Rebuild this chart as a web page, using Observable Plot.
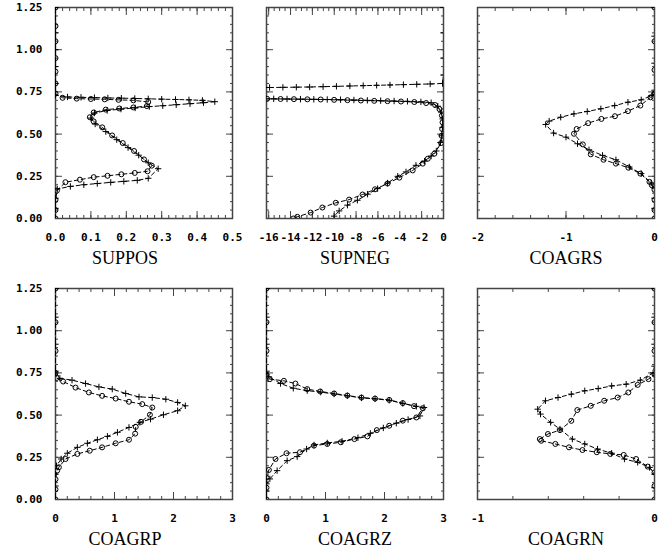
<!DOCTYPE html>
<html><head><meta charset="utf-8">
<script src="https://cdn.jsdelivr.net/npm/d3@7"></script>
<script src="https://cdn.jsdelivr.net/npm/@observablehq/plot@0.6"></script>
<style>
body{margin:0;background:#fff;}
#chart{position:relative;width:668px;height:554px;overflow:hidden;background:#fff;}
#chart svg{position:absolute;}
</style></head><body><div id="chart"></div>
<script>
// ---- panel titles and axes ----
const titles = ["SUPPOS","SUPNEG","COAGRS","COAGRP","COAGRZ","COAGRN"];
const yTicks = [0,0.25,0.5,0.75,1,1.25];
const yLabels = ["0.00","0.25","0.50","0.75","1.00","1.25"];
const yMinorStep = 0.05;
const xDomains = [[0,0.5],[-16.2,0],[-2,0],[0,3],[0,3],[-1,0]];
const xTicks = [[0,0.1,0.2,0.3,0.4,0.5],[-16,-14,-12,-10,-8,-6,-4,-2,0],[-2,-1,0],[0,1,2,3],[0,1,2,3],[-1,0]];
const xLabels = [["0.0","0.1","0.2","0.3","0.4","0.5"],["-16","-14","-12","-10","-8","-6","-4","-2","0"],["-2","-1","0"],["0","1","2","3"],["0","1","2","3"],["-1","0"]];
const xMinorSteps = [0.02,0.5,0.2,0.2,0.2,0.2];

// ---- series (o = circles, p = plus) ----
const supposO_x = [0,0,0,0.004,0.028,0.069,0.108,0.147,0.186,0.224,0.260,0.272,0.250,0.222,0.190,0.160,0.132,0.108,0.097,0.108,0.142,0.180,0.220,0.258,0.262,0.220,0.178,0.139,0.100,0.060,0.020,0,0,0,0,0,0,0];
const supposO_y = [0,0.05,0.11,0.165,0.215,0.230,0.245,0.253,0.262,0.270,0.280,0.313,0.350,0.400,0.447,0.492,0.540,0.575,0.600,0.628,0.645,0.652,0.658,0.666,0.690,0.700,0.703,0.706,0.708,0.710,0.715,0.74,0.80,0.87,0.95,1.05,1.14,1.25];
const supposP_x = [0,0,0,0.005,0.042,0.080,0.118,0.156,0.193,0.231,0.262,0.290,0.262,0.235,0.205,0.173,0.142,0.112,0.100,0.110,0.146,0.185,0.225,0.265,0.303,0.341,0.380,0.418,0.450,0.415,0.377,0.339,0.300,0.262,0.224,0.186,0.148,0.110,0.072,0.034,0,0,0,0,0,0];
const supposP_y = [0,0.06,0.12,0.175,0.190,0.200,0.207,0.214,0.220,0.226,0.238,0.295,0.330,0.375,0.420,0.467,0.515,0.560,0.595,0.625,0.640,0.648,0.655,0.663,0.668,0.674,0.680,0.686,0.692,0.700,0.703,0.705,0.707,0.709,0.711,0.713,0.714,0.716,0.718,0.720,0.73,0.80,0.90,1.00,1.10,1.25];

const supnegO_x = [-18,-16.14,-14.91,-13.69,-12.46,-11.24,-10.01,-8.79,-7.56,-6.34,-5.12,-3.89,-2.67,-1.59,-0.76,-0.37,-0.15,-0.09,-0.12,-0.17,-0.22,-0.83,-1.44,-1.90,-2.82,-4.04,-5.12,-6.27,-7.41,-8.64,-9.86,-11.09,-12.16,-13.38,-13.75];
const supnegO_y = [0.711,0.709,0.708,0.707,0.706,0.705,0.703,0.701,0.699,0.697,0.695,0.693,0.690,0.684,0.672,0.648,0.610,0.570,0.530,0.490,0.447,0.384,0.354,0.325,0.285,0.242,0.207,0.173,0.142,0.112,0.093,0.065,0.035,0.010,0.0];
const supnegP_x = [0,0,0,0,-0.09,-1.22,-2.45,-3.67,-4.90,-6.12,-7.35,-8.57,-9.80,-11.02,-12.25,-13.47,-14.70,-15.92,-18,-18,-15.54,-14.32,-13.09,-11.87,-10.64,-9.42,-8.20,-6.97,-5.75,-4.52,-3.30,-2.07,-1.13,-0.52,-0.21,-0.08,-0.08,-0.15,-0.28,-0.66,-1.13,-1.74,-2.52,-3.43,-4.19,-5.12,-6.03,-6.95,-7.88,-8.79,-9.55,-10.01];
const supnegP_y = [1.25,1.10,0.95,0.85,0.800,0.797,0.795,0.793,0.791,0.789,0.787,0.785,0.783,0.781,0.779,0.778,0.777,0.776,0.775,0.71,0.709,0.708,0.707,0.706,0.705,0.704,0.702,0.700,0.698,0.696,0.694,0.691,0.686,0.665,0.630,0.590,0.540,0.490,0.450,0.40,0.37,0.34,0.315,0.276,0.25,0.21,0.177,0.144,0.108,0.079,0.045,0.014];

const coagrsO_x = [0,0,0,0,-0.045,-0.16,-0.30,-0.447,-0.60,-0.75,-0.88,-0.91,-0.81,-0.72,-0.576,-0.436,-0.295,-0.16,-0.057,-0.03,0,0,0,0];
const coagrsO_y = [1.25,1.05,0.88,0.74,0.718,0.669,0.636,0.606,0.590,0.565,0.530,0.502,0.439,0.380,0.348,0.325,0.301,0.266,0.217,0.197,0.17,0.11,0.05,0];
const coagrsP_x = [0,0,0,0,-0.03,-0.15,-0.30,-0.45,-0.606,-0.76,-0.91,-1.06,-1.19,-1.23,-1.14,-1.0,-0.87,-0.74,-0.587,-0.436,-0.284,-0.15,-0.038,0,0,0,0];
const coagrsP_y = [1.25,1.08,0.92,0.76,0.728,0.703,0.689,0.669,0.650,0.634,0.620,0.600,0.577,0.557,0.506,0.482,0.443,0.407,0.374,0.348,0.305,0.266,0.21,0.18,0.12,0.06,0];

const coagrpO_x = [0,0,0,0,0.02,0.13,0.34,0.566,0.79,1.02,1.245,1.47,1.64,1.60,1.45,1.36,1.35,1.245,1.02,0.79,0.58,0.37,0.17,0.057,0.028,0,0,0];
const coagrpO_y = [1.25,1.05,0.88,0.75,0.72,0.699,0.663,0.634,0.614,0.598,0.579,0.565,0.545,0.502,0.46,0.43,0.39,0.354,0.333,0.309,0.289,0.270,0.240,0.191,0.171,0.12,0.06,0];
const coagrpP_x = [0,0,0,0,0.074,0.28,0.51,0.736,0.962,1.19,1.415,1.64,1.87,2.07,2.2,2.07,1.83,1.61,1.43,1.245,1.05,0.88,0.71,0.54,0.37,0.2,0.096,0.017,0,0,0];
const coagrpP_y = [1.25,1.08,0.92,0.76,0.718,0.707,0.687,0.667,0.654,0.628,0.608,0.604,0.594,0.575,0.555,0.526,0.502,0.476,0.457,0.427,0.398,0.374,0.354,0.333,0.309,0.274,0.240,0.200,0.15,0.08,0];

const coagrzO_x = [0,0,0,0,0.057,0.295,0.49,0.69,0.91,1.146,1.37,1.61,1.84,2.08,2.31,2.5,2.65,2.54,2.31,2.08,1.87,1.71,1.49,1.26,1.03,0.805,0.567,0.34,0.153,0.04,0,0,0];
const coagrzO_y = [1.25,1.05,0.88,0.74,0.713,0.703,0.687,0.654,0.640,0.628,0.616,0.604,0.598,0.590,0.571,0.553,0.541,0.486,0.467,0.437,0.411,0.374,0.358,0.339,0.329,0.319,0.280,0.274,0.240,0.175,0.13,0.07,0];
const coagrzP_x = [0,0,0,0,0.04,0.238,0.454,0.69,0.92,1.146,1.37,1.61,1.84,2.08,2.31,2.54,2.67,2.6,2.4,2.2,1.98,1.76,1.55,1.28,1.03,0.805,0.68,0.52,0.35,0.18,0.057,0,0,0];
const coagrzP_y = [1.25,1.08,0.92,0.76,0.726,0.687,0.659,0.645,0.636,0.625,0.614,0.602,0.596,0.588,0.569,0.552,0.545,0.495,0.474,0.452,0.424,0.392,0.366,0.345,0.335,0.323,0.299,0.254,0.230,0.171,0.122,0.093,0.05,0];

const coagrnO_x = [0,0,0,0,-0.034,-0.095,-0.148,-0.208,-0.284,-0.36,-0.436,-0.47,-0.534,-0.602,-0.648,-0.64,-0.56,-0.483,-0.407,-0.326,-0.25,-0.174,-0.104,-0.038,0,0,0];
const coagrnO_y = [1.25,1.05,0.88,0.74,0.713,0.679,0.634,0.604,0.585,0.555,0.53,0.466,0.411,0.388,0.358,0.348,0.329,0.309,0.293,0.280,0.270,0.264,0.240,0.195,0.16,0.08,0];
const coagrnP_x = [0,0,0,0,-0.008,-0.08,-0.16,-0.242,-0.318,-0.394,-0.47,-0.545,-0.616,-0.66,-0.644,-0.587,-0.534,-0.464,-0.394,-0.322,-0.242,-0.17,-0.095,-0.028,0,0,0];
const coagrnP_y = [1.25,1.08,0.92,0.79,0.75,0.707,0.683,0.673,0.657,0.644,0.624,0.604,0.585,0.535,0.506,0.457,0.417,0.358,0.329,0.299,0.274,0.240,0.220,0.190,0.15,0.07,0];

const seriesO = [[supposO_x,supposO_y],[supnegO_x,supnegO_y],[coagrsO_x,coagrsO_y],[coagrpO_x,coagrpO_y],[coagrzO_x,coagrzO_y],[coagrnO_x,coagrnO_y]];
const seriesP = [[supposP_x,supposP_y],[supnegP_x,supnegP_y],[coagrsP_x,coagrsP_y],[coagrpP_x,coagrpP_y],[coagrzP_x,coagrzP_y],[coagrnP_x,coagrnP_y]];

// ---- layout ----
const colLeft = [55, 266, 477];
const rowTop = [7, 288];
const frameW = 177, frameH = 211;
const titleShift = [-19, 0, 0];
const frameColor = "#444";

function zip([xs, ys]) { return xs.map((x, i) => ({x, y: ys[i]})); }
function stepTicks([a, b], s) {
  const out = [];
  for (let k = Math.ceil(a / s - 1e-9); k * s <= b + 1e-9; k++) out.push(+(k * s).toFixed(6));
  return out;
}

const chart = document.getElementById("chart");
for (let i = 0; i < 6; i++) {
  const col = i % 3, row = Math.floor(i / 3);
  const mL = col === 0 ? 56 : 6, mR = 8, mT = 7, mB = 62;
  const oData = zip(seriesO[i]), pData = zip(seriesP[i]);
  const xMinor = stepTicks(xDomains[i], xMinorSteps[i]);
  const yMinor = stepTicks([0, 1.25], yMinorStep);
  const tickOpts = (size) => ({tickSize: size, fill: "none", label: null, stroke: frameColor});
  const marks = [
    Plot.axisY(yMinor, {anchor: "left", ...tickOpts(-3)}),
    Plot.axisY(yMinor, {anchor: "right", ...tickOpts(-3)}),
    Plot.axisY(yTicks, {anchor: "left", ...tickOpts(-7)}),
    Plot.axisY(yTicks, {anchor: "right", ...tickOpts(-7)}),
    Plot.axisX(xMinor, {anchor: "bottom", ...tickOpts(-3)}),
    Plot.axisX(xMinor, {anchor: "top", ...tickOpts(-3)}),
    Plot.axisX(xTicks[i], {anchor: "bottom", ...tickOpts(-7)}),
    Plot.axisX(xTicks[i], {anchor: "top", ...tickOpts(-7)}),
    Plot.axisX(xTicks[i], {anchor: "bottom", tickSize: 0, tickPadding: 15, label: null, fontWeight: "bold",
      tickFormat: d => xLabels[i][xTicks[i].indexOf(d)]}),
    Plot.frame({stroke: frameColor, strokeWidth: 1.5}),
    Plot.line(oData, {x: "x", y: "y", stroke: "black", strokeWidth: 1, strokeDasharray: "4,3", clip: true}),
    Plot.line(pData, {x: "x", y: "y", stroke: "black", strokeWidth: 1, strokeDasharray: "4,3", clip: true}),
    Plot.dot(oData, {x: "x", y: "y", r: 2.5, symbol: "circle", stroke: "black", fill: "none", strokeWidth: 1, clip: true}),
    Plot.dot(pData, {x: "x", y: "y", r: 2.2, symbol: "plus", stroke: "black", strokeWidth: 1, clip: true}),
    Plot.text([titles[i]], {frameAnchor: "bottom", dy: 45, dx: titleShift[col], fontFamily: "Liberation Serif", fontSize: 18, fill: "black"})
  ];
  if (col === 0) {
    marks.push(Plot.axisY(yTicks, {anchor: "left", tickSize: 0, tickPadding: 13, label: null, fontWeight: "bold",
      tickFormat: d => yLabels[yTicks.indexOf(d)]}));
  }
  const svg = Plot.plot({
    width: mL + frameW + mR, height: mT + frameH + mB,
    marginLeft: mL, marginRight: mR, marginTop: mT, marginBottom: mB,
    x: {domain: xDomains[i]},
    y: {domain: [0, 1.25]},
    style: {fontFamily: "'DejaVu Sans Mono', monospace", fontSize: "11px", color: "black", background: "transparent", overflow: "visible"},
    marks
  });
  svg.style.left = (colLeft[col] - mL) + "px";
  svg.style.top = (rowTop[row] - mT) + "px";
  chart.appendChild(svg);
}
</script></body></html>
